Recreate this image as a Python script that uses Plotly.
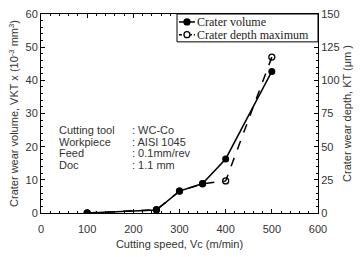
import plotly.graph_objects as go

speed = [100, 250, 300, 350, 400, 500]
crater_volume = [0.0, 0.9, 6.6, 8.9, 16.3, 42.7]
crater_depth = [0.0, 2.5, 16.5, 22.0, 24.2, 117.5]

series_names = ["Crater volume", "Crater depth maximum"]

ann_labels = ["Cutting tool", "Workpiece", "Feed", "Doc"]
ann_values = [": WC-Co", ": AISI 1045", ": 0.1mm/rev", ": 1.1 mm"]
ann_rows = [24.9, 21.5, 18.0, 14.5]

fig = go.Figure()
fig.add_trace(go.Scatter(
    x=speed, y=crater_volume, name=series_names[0], mode="lines+markers",
    line=dict(color="black", width=1.5),
    marker=dict(symbol="circle", size=7, color="black"),
))
fig.add_trace(go.Scatter(
    x=speed, y=crater_depth, name=series_names[1], mode="lines+markers",
    yaxis="y2",
    line=dict(color="black", width=1.5, dash="dash"),
    marker=dict(symbol="circle-open", size=6, color="black", line=dict(width=1.3)),
))

font = dict(family="Liberation Sans, Arial", size=11, color="#333")
axis_common = dict(
    showgrid=False, zeroline=False, linecolor="black", linewidth=1,
    ticks="inside", ticklen=4, tickcolor="black",
    tickfont=font, title_font=font,
)

fig.update_layout(
    width=360, height=257,
    margin=dict(l=41, r=42, t=8, b=32),
    plot_bgcolor="white", paper_bgcolor="white",
    showlegend=False,
    xaxis=dict(
        range=[0, 600], dtick=100, mirror="ticks",
        ticklabelstandoff=6,
        title=dict(text="Cutting speed, Vc (m/min)", standoff=6),
        minor=dict(ticks="inside", ticklen=2, dtick=20, tickcolor="black"),
        **axis_common,
    ),
    yaxis=dict(
        range=[0, 60], dtick=10,
        title=dict(text="Crater wear volume, VKT x (10<sup>-3</sup> mm<sup>3</sup>)", standoff=4),
        minor=dict(ticks="inside", ticklen=2, dtick=2, tickcolor="black"),
        **axis_common,
    ),
    yaxis2=dict(
        range=[0, 150], dtick=25, overlaying="y", side="right",
        title=dict(text="Crater wear depth, KT (μm )", standoff=4),
        minor=dict(ticks="inside", ticklen=2, dtick=5, tickcolor="black"),
        **axis_common,
    ),
)

# manual compact legend (paper coords = plot area)
fig.add_shape(type="rect", xref="paper", yref="paper", x0=0.491, x1=1.0, y0=0.86, y1=1.0,
              line=dict(color="black", width=1), fillcolor="white", layer="above")
leg_font = dict(family="Liberation Serif, DejaVu Serif", size=12, color="#222")
leg_rows = [0.96, 0.896]
leg_dash = ["solid", "3px,2px"]
for name, yy, dash, filled in zip(series_names, leg_rows, leg_dash, [True, False]):
    fig.add_shape(type="line", xref="paper", yref="paper", x0=0.498, x1=0.556, y0=yy, y1=yy,
                  line=dict(color="black", width=1.5, dash=dash), layer="above")
    fig.add_shape(type="circle", xref="paper", yref="paper", xsizemode="pixel", ysizemode="pixel",
                  xanchor=0.527, yanchor=yy, x0=-3, x1=3, y0=-3, y1=3,
                  line=dict(color="black", width=1.3),
                  fillcolor="black" if filled else "white", layer="above")
    fig.add_annotation(x=0.556, y=yy, xref="paper", yref="paper", text=name, showarrow=False,
                       xanchor="left", yanchor="middle", font=leg_font, height=10)

ann_font = dict(family="Liberation Sans, Arial", size=11, color="#333")
for lab, val, yy in zip(ann_labels, ann_values, ann_rows):
    fig.add_annotation(x=35, y=yy, xref="x", yref="y", text=lab, showarrow=False,
                       xanchor="left", yanchor="middle", font=ann_font, height=12)
    fig.add_annotation(x=192, y=yy, xref="x", yref="y", text=val, showarrow=False,
                       xanchor="left", yanchor="middle", font=ann_font, height=12)

fig.write_html("out.html")
